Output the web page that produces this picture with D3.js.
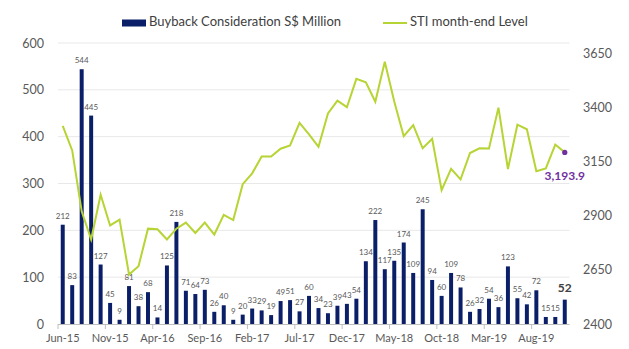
<!DOCTYPE html>
<html>
<head>
<meta charset="utf-8">
<script src="https://cdn.jsdelivr.net/npm/d3@7"></script>
<style>
    body { margin: 0; background: #ffffff; }
    svg text { font-family: Lato, 'Open Sans', sans-serif; }
</style>
</head>
<body>
<svg id="chart" width="629" height="349"></svg>
<script>
const months = [
    'Jun-15', 'Jul-15', 'Aug-15', 'Sep-15', 'Oct-15', 'Nov-15', 'Dec-15',
    'Jan-16', 'Feb-16', 'Mar-16', 'Apr-16', 'May-16', 'Jun-16', 'Jul-16', 'Aug-16', 'Sep-16', 'Oct-16', 'Nov-16', 'Dec-16',
    'Jan-17', 'Feb-17', 'Mar-17', 'Apr-17', 'May-17', 'Jun-17', 'Jul-17', 'Aug-17', 'Sep-17', 'Oct-17', 'Nov-17', 'Dec-17',
    'Jan-18', 'Feb-18', 'Mar-18', 'Apr-18', 'May-18', 'Jun-18', 'Jul-18', 'Aug-18', 'Sep-18', 'Oct-18', 'Nov-18', 'Dec-18',
    'Jan-19', 'Feb-19', 'Mar-19', 'Apr-19', 'May-19', 'Jun-19', 'Jul-19', 'Aug-19', 'Sep-19', 'Oct-19', 'Nov-19'
];

// S$ million bought back each month
const buyback = [
    212, 83, 544, 445, 127, 45, 9,
    81, 38, 68, 14, 125, 218, 71, 64, 73, 26, 40, 9,
    20, 33, 29, 19, 49, 51, 27, 60, 34, 23, 39, 43,
    54, 134, 222, 117, 135, 174, 109, 245, 94, 60, 109, 78,
    26, 32, 54, 36, 123, 55, 42, 72, 15, 15, 52
];

// STI month-end close
const sti_level = [
    3317, 3203, 2921, 2791, 2998, 2856, 2883,
    2629, 2667, 2841, 2838, 2791, 2841, 2869, 2821, 2869, 2814, 2905, 2881,
    3047, 3097, 3175, 3175, 3211, 3226, 3330, 3277, 3220, 3374, 3433, 3403,
    3534, 3518, 3428, 3613, 3429, 3269, 3320, 3213, 3257, 3019, 3118, 3069,
    3191, 3213, 3212, 3401, 3117, 3322, 3301, 3107, 3120, 3230, 3193.9
];

const left_ticks = [0, 100, 200, 300, 400, 500, 600];
const right_ticks = [2400, 2650, 2900, 3150, 3400, 3650];
const legend_labels = ['Buyback Consideration S$ Million', 'STI month-end Level'];

const color_bar = '#0b1f68';
const color_line = '#b6d433';
const color_last = '#7030a0';
const color_text = '#595959';

let svg = d3.select('#chart');

let plot_left = 58, plot_right = 569.5, plot_top = 43, plot_bottom = 324;

let x = d3.scaleBand()
    .domain(months)
    .range([plot_left, plot_right])
    .paddingInner(0.58)
    .paddingOuter(0.29);

let y_left = d3.scaleLinear().domain([0, 600]).range([plot_bottom, plot_top]);
let y_right = d3.scaleLinear().domain([2400, 3700]).range([plot_bottom, plot_top]);

let x_center = function (m) { return x(m) + x.bandwidth() / 2; };

// horizontal gridlines
svg.append('g')
    .selectAll('line')
    .data(left_ticks.filter(d => d > 0))
    .join('line')
    .attr('x1', plot_left)
    .attr('x2', plot_right)
    .attr('y1', d => y_left(d))
    .attr('y2', d => y_left(d))
    .attr('stroke', '#e8e8e8')
    .attr('stroke-width', 1);

// left axis
let axis_left = svg.append('g')
    .attr('transform', 'translate(' + plot_left + ',0)')
    .call(d3.axisLeft(y_left).tickValues(left_ticks).tickSize(0).tickPadding(14));
axis_left.select('.domain').remove();
axis_left.selectAll('text')
    .style('font-size', '12.5px')
    .attr('fill', color_text);

// right axis
let axis_right = svg.append('g')
    .attr('transform', 'translate(' + plot_right + ',0)')
    .call(d3.axisRight(y_right).tickValues(right_ticks).tickFormat(d3.format('d')).tickSize(0).tickPadding(13.5));
axis_right.select('.domain').remove();
axis_right.selectAll('text')
    .style('font-size', '12.5px')
    .attr('fill', color_text);

// bars
svg.append('g')
    .selectAll('rect')
    .data(months)
    .join('rect')
    .attr('x', d => x(d))
    .attr('y', (d, i) => y_left(buyback[i]))
    .attr('width', x.bandwidth())
    .attr('height', (d, i) => plot_bottom - y_left(buyback[i]))
    .attr('fill', color_bar);

// bar value labels, last one is bigger
svg.append('g')
    .selectAll('text')
    .data(months)
    .join('text')
    .attr('x', d => x_center(d))
    .attr('y', (d, i) => y_left(buyback[i]) - (i === months.length - 1 ? 8 : 6))
    .attr('text-anchor', 'middle')
    .style('font-size', (d, i) => i === months.length - 1 ? '12px' : '8px')
    .style('font-weight', (d, i) => i === months.length - 1 ? 'bold' : 'normal')
    .attr('fill', (d, i) => i === months.length - 1 ? '#404040' : color_text)
    .text((d, i) => buyback[i]);

// x axis line, ticks every 5 months
let x_step = x.step();
let label_months = months.filter((d, i) => i % 5 === 0);

svg.append('line')
    .attr('x1', plot_left)
    .attr('x2', plot_right)
    .attr('y1', plot_bottom + 0.5)
    .attr('y2', plot_bottom + 0.5)
    .attr('stroke', '#bfbfbf')
    .attr('stroke-width', 1);

svg.append('g')
    .selectAll('line')
    .data(label_months)
    .join('line')
    .attr('x1', d => x(d) - x_step * x.paddingInner() / 2)
    .attr('x2', d => x(d) - x_step * x.paddingInner() / 2)
    .attr('y1', plot_bottom)
    .attr('y2', plot_bottom + 5)
    .attr('stroke', '#bfbfbf')
    .attr('stroke-width', 1);

svg.append('g')
    .selectAll('text')
    .data(label_months)
    .join('text')
    .attr('x', d => x_center(d))
    .attr('y', 339)
    .attr('dominant-baseline', 'middle')
    .attr('text-anchor', 'middle')
    .style('font-size', '11px')
    .attr('fill', color_text)
    .text(d => d);

// STI line
let sti_line = d3.line()
    .x((d, i) => x_center(months[i]))
    .y(d => y_right(d));

svg.append('path')
    .datum(sti_level)
    .attr('d', sti_line)
    .attr('fill', 'none')
    .attr('stroke', color_line)
    .attr('stroke-width', 2)
    .attr('stroke-linejoin', 'miter');

// latest STI point with label
let last_index = sti_level.length - 1;
svg.append('circle')
    .attr('cx', x_center(months[last_index]))
    .attr('cy', y_right(sti_level[last_index]))
    .attr('r', 2.6)
    .attr('fill', color_last);

svg.append('text')
    .attr('x', x_center(months[last_index]))
    .attr('y', y_right(sti_level[last_index]) + 28)
    .attr('text-anchor', 'middle')
    .style('font-size', '12px')
    .style('font-weight', 'bold')
    .attr('fill', color_last)
    .text(d3.format(',.1f')(sti_level[last_index]));

// legend
let legend = svg.append('g');
legend.append('rect')
    .attr('x', 122)
    .attr('y', 19.5)
    .attr('width', 24)
    .attr('height', 7)
    .attr('fill', color_bar);
legend.append('text')
    .attr('x', 149)
    .attr('y', 23)
    .attr('dominant-baseline', 'middle')
    .style('font-size', '13px')
    .attr('fill', '#404040')
    .text(legend_labels[0]);
legend.append('line')
    .attr('x1', 383)
    .attr('x2', 407)
    .attr('y1', 23)
    .attr('y2', 23)
    .attr('stroke', color_line)
    .attr('stroke-width', 2);
legend.append('text')
    .attr('x', 410)
    .attr('y', 23)
    .attr('dominant-baseline', 'middle')
    .style('font-size', '13px')
    .attr('fill', '#404040')
    .text(legend_labels[1]);
</script>
</body>
</html>
